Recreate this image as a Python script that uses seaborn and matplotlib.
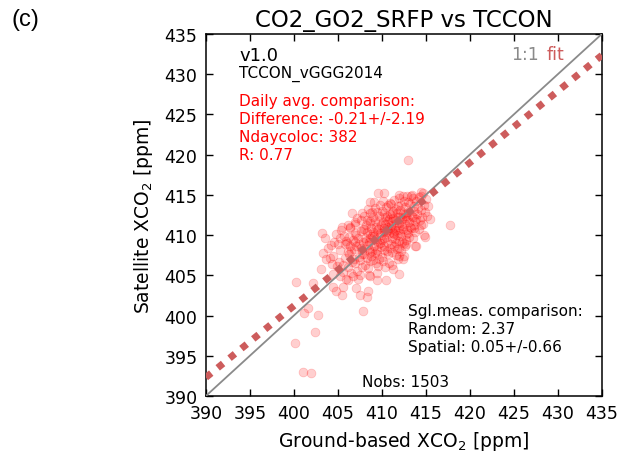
import numpy as np
import pandas as pd
import matplotlib
matplotlib.use("Agg")
import matplotlib.pyplot as plt
import seaborn as sns

# ---------------- data ----------------
ground_xco2 = (
    [400.2, 400.1, 401.0, 401.9, 402.4, 402.8, 401.1, 401.6, 402.2, 403.1, 412.95, 417.7, 407.9]
    + [403.3, 403.5, 403.7, 403.9, 403.2, 404.1, 404.3, 404.5, 404.8, 404.2, 404.6, 404.9, 404.4, 404.8, 405.0, 404.5]
    + [405.2, 405.6, 405.5, 405.1, 405.3, 405.6, 405.8, 405.7, 405.9, 405.4, 405.6, 405.2, 405.8, 405.5, 405.9]
    + [406.2, 406.6, 406.1, 406.3, 406.4, 406.5, 406.7, 406.8, 406.9, 406.0, 406.2, 406.6, 406.4, 406.8, 406.1, 406.7, 406.3, 406.9, 406.5, 406.4]
    + [407.0, 407.1, 407.5, 407.7, 408.3, 407.1, 407.3, 407.4, 407.6, 407.8, 407.0, 407.2, 407.5, 407.9, 407.3, 407.6, 407.8, 407.1, 407.4, 407.7, 407.9, 407.5, 407.2, 407.6, 407.0]
    + [408.6, 408.6, 408.6, 408.4, 408.6, 408.0, 408.1, 408.3, 408.5, 408.7, 408.9, 408.2, 408.4, 408.8, 408.0, 408.3, 408.5, 408.7, 408.9, 408.1, 408.4, 408.6, 408.8, 408.2, 408.5, 408.9, 408.3, 408.7, 408.0, 408.6, 408.4]
    + [409.6, 409.4, 409.0, 409.1, 409.2, 409.3, 409.5, 409.6, 409.7, 409.8, 409.9, 409.0, 409.2, 409.4, 409.5, 409.7, 409.8, 409.1, 409.3, 409.6, 409.9, 409.0, 409.2, 409.4, 409.5, 409.7, 409.8, 409.3, 409.6, 409.9, 409.1, 409.5]
    + [410.3, 410.7, 410.5, 410.0, 410.1, 410.2, 410.3, 410.4, 410.5, 410.6, 410.7, 410.8, 410.9, 410.0, 410.1, 410.2, 410.3, 410.4, 410.5, 410.6, 410.7, 410.8, 410.9, 410.0, 410.2, 410.3, 410.4, 410.6, 410.7, 410.8, 410.9, 410.1, 410.5, 410.6, 410.9]
    + [411.9, 411.8, 411.9, 411.0, 411.1, 411.2, 411.3, 411.4, 411.5, 411.6, 411.7, 411.8, 411.9, 411.0, 411.1, 411.2, 411.3, 411.4, 411.5, 411.6, 411.7, 411.8, 411.9, 411.0, 411.2, 411.3, 411.5, 411.6, 411.7, 411.9, 411.1, 411.4, 411.8, 411.6, 411.3]
    + [412.0, 412.5, 412.8, 412.4, 412.0, 412.1, 412.2, 412.3, 412.4, 412.5, 412.6, 412.7, 412.8, 412.9, 412.0, 412.1, 412.2, 412.3, 412.4, 412.5, 412.6, 412.7, 412.8, 412.9, 412.2, 412.4, 412.6, 412.7, 412.9, 412.1, 412.3]
    + [413.0, 413.8, 413.9, 413.0, 413.1, 413.2, 413.3, 413.4, 413.5, 413.6, 413.7, 413.8, 413.9, 413.1, 413.3, 413.5, 413.6, 413.8, 413.2, 413.4, 413.7, 413.9, 413.0, 413.5]
    + [414.1, 414.7, 414.5, 414.8, 414.0, 414.2, 414.3, 414.4, 414.6, 414.8, 414.9, 414.2, 414.5, 414.7, 415.0, 415.1, 415.3, 415.5, 414.9, 414.4]
)
satellite_xco2 = (
    [404.2, 396.6, 393.0, 392.9, 398.0, 400.1, 400.3, 401.0, 404.1, 405.8, 419.3, 411.2, 400.6]
    + [407.8, 409.7, 407.0, 408.4, 410.3, 407.2, 406.4, 403.6, 403.1, 408.8, 409.2, 406.1, 405.2, 410.1, 408.9, 407.4]
    + [409.7, 403.6, 402.6, 406.6, 408.2, 405.4, 407.1, 409.9, 404.6, 410.6, 406.3, 404.9, 408.9, 411.0, 409.3]
    + [411.2, 412.8, 406.0, 407.6, 408.7, 405.3, 409.4, 407.0, 410.2, 409.0, 404.4, 406.7, 410.9, 408.3, 407.9, 404.9, 409.8, 411.6, 408.0, 411.0]
    + [406.5, 403.4, 402.6, 412.8, 402.3, 408.6, 409.7, 407.3, 410.5, 408.1, 411.4, 405.5, 406.9, 409.2, 404.6, 411.9, 406.0, 410.0, 408.9, 407.6, 410.8, 405.0, 412.1, 408.4, 409.1]
    + [414.1, 412.7, 411.7, 403.0, 404.9, 407.7, 409.6, 410.4, 408.3, 406.8, 409.9, 411.3, 405.9, 410.9, 412.4, 407.1, 409.1, 411.5, 408.0, 406.3, 408.8, 410.1, 407.4, 409.3, 405.1, 412.9, 411.9, 409.6, 410.7, 407.9, 413.3]
    + [415.2, 405.3, 410.4, 408.6, 411.8, 409.5, 407.6, 410.8, 412.4, 409.0, 411.3, 406.9, 413.4, 408.2, 412.9, 407.0, 410.2, 409.9, 411.0, 406.2, 408.5, 412.2, 407.8, 410.6, 409.3, 411.7, 413.8, 406.5, 408.9, 410.0, 414.1, 404.4]
    + [415.2, 413.7, 404.4, 409.4, 411.6, 408.1, 410.5, 412.3, 409.8, 411.0, 407.7, 410.2, 412.6, 413.0, 406.8, 410.9, 408.7, 411.4, 413.5, 409.1, 410.6, 412.0, 408.4, 407.3, 412.8, 409.6, 406.0, 412.4, 411.8, 406.5, 410.9, 414.3, 410.4, 408.0, 414.0]
    + [415.0, 407.0, 407.4, 411.2, 409.7, 412.7, 410.3, 408.6, 411.9, 413.2, 410.0, 412.3, 409.3, 413.9, 407.9, 410.8, 412.1, 414.4, 409.5, 411.3, 408.3, 413.6, 411.0, 408.9, 406.3, 413.0, 410.6, 407.5, 412.8, 414.6, 411.8, 410.1, 410.6, 409.0, 405.8]
    + [405.2, 407.4, 408.9, 407.0, 411.5, 413.1, 409.9, 412.0, 410.8, 414.2, 411.4, 409.4, 412.7, 410.6, 408.4, 410.2, 413.8, 411.1, 412.6, 409.0, 413.5, 411.9, 410.1, 414.8, 408.0, 414.9, 408.6, 412.4, 412.1, 412.3, 409.2]
    + [410.3, 408.7, 408.6, 412.9, 411.6, 413.9, 410.9, 412.4, 414.6, 411.2, 413.0, 410.4, 412.0, 409.8, 414.8, 409.6, 413.6, 411.7, 411.0, 415.0, 410.9, 414.3, 414.1, 412.2]
    + [413.4, 411.4, 411.2, 410.0, 412.6, 414.7, 411.9, 413.1, 412.3, 413.8, 412.9, 410.8, 414.9, 415.2, 414.5, 412.4, 413.6, 412.0, 409.8, 415.3]
)
if len(ground_xco2) != len(satellite_xco2):
    raise ValueError(f"length mismatch {len(ground_xco2)} vs {len(satellite_xco2)}")

axis_range = [390, 435]
tick_values = [390, 395, 400, 405, 410, 415, 420, 425, 430, 435]
fit_slope = 0.89
fit_intercept = 45.2

# ---------------- style ----------------
sns.set_style("ticks")
plt.rcParams["font.family"] = ["DejaVu Sans"]
plt.rcParams["mathtext.fontset"] = "dejavusans"
plt.rcParams["text.color"] = "black"
plt.rcParams["axes.labelcolor"] = "black"
plt.rcParams["xtick.color"] = "black"
plt.rcParams["ytick.color"] = "black"

fig = plt.figure(figsize=(6.2, 4.52), dpi=100)
ax = fig.add_axes([0.332, 0.1217, 0.6387, 0.8009])

df = pd.DataFrame({"ground": ground_xco2, "satellite": satellite_xco2})
sns.scatterplot(data=df, x="ground", y="satellite", color="red", alpha=0.19,
                s=40, edgecolor="red", linewidth=0.6, ax=ax, zorder=2)

# 1:1 line
ax.plot(axis_range, axis_range, color="#8a8a8a", lw=1.3, zorder=3)
# fit line
fit_x = np.array(axis_range, dtype=float)
fit_y = fit_slope * fit_x + fit_intercept
ax.plot(fit_x, fit_y, color="#cd5c5c", lw=5, linestyle=(0, (1, 1.2)),
        dash_capstyle="butt", zorder=4)

ax.set_xlim(axis_range)
ax.set_ylim(axis_range)
ax.set_xticks(tick_values)
ax.set_yticks(tick_values)
ax.tick_params(direction="in", top=True, right=True, length=5, width=1,
               labelsize=12.5, pad=6, colors="black")
for sp in ax.spines.values():
    sp.set_visible(True)
    sp.set_linewidth(1.1)
    sp.set_color("black")

ax.set_xlabel("Ground-based XCO$_2$ [ppm]", fontsize=13.5, labelpad=5, color="black")
ax.set_ylabel("Satellite XCO$_2$ [ppm]", fontsize=13.5, labelpad=7, color="black")
ax.set_title("CO2_GO2_SRFP vs TCCON", fontsize=16.5, pad=6, color="black")

tr = ax.transAxes
ax.text(0.084, 0.942, "v1.0", fontsize=13, va="center", ha="left", transform=tr, color="black")
ax.text(0.084, 0.893, "TCCON_vGGG2014", fontsize=11, va="center", ha="left", transform=tr, color="black")
red_lines = ["Daily avg. comparison:", "Difference: -0.21+/-2.19",
             "Ndaycoloc: 382", "R: 0.77"]
for i, s in enumerate(red_lines):
    ax.text(0.084, 0.816 - i * 0.0495, s, fontsize=11, color="red",
            va="center", ha="left", transform=tr)
ax.text(0.906, 0.946, "fit", fontsize=12.5, color="#cd5c5c", va="center",
        ha="right", transform=tr)
ax.text(0.842, 0.946, "1:1", fontsize=12.5, color="#8a8a8a", va="center",
        ha="right", transform=tr)
sgl_lines = ["Sgl.meas. comparison:", "Random: 2.37", "Spatial: 0.05+/-0.66"]
for i, s in enumerate(sgl_lines):
    ax.text(0.510, 0.2356 - i * 0.049, s, fontsize=11, color="black",
            va="center", ha="left", transform=tr)
ax.text(0.505, 0.041, "Nobs: 1503", fontsize=11, va="center", ha="center",
        transform=tr, color="black")

fig.text(0.019, 0.955, "(c)", fontsize=17, family=["Liberation Sans", "DejaVu Sans"],
         va="center", ha="left", color="black")

fig.savefig("out.png", dpi=100)
